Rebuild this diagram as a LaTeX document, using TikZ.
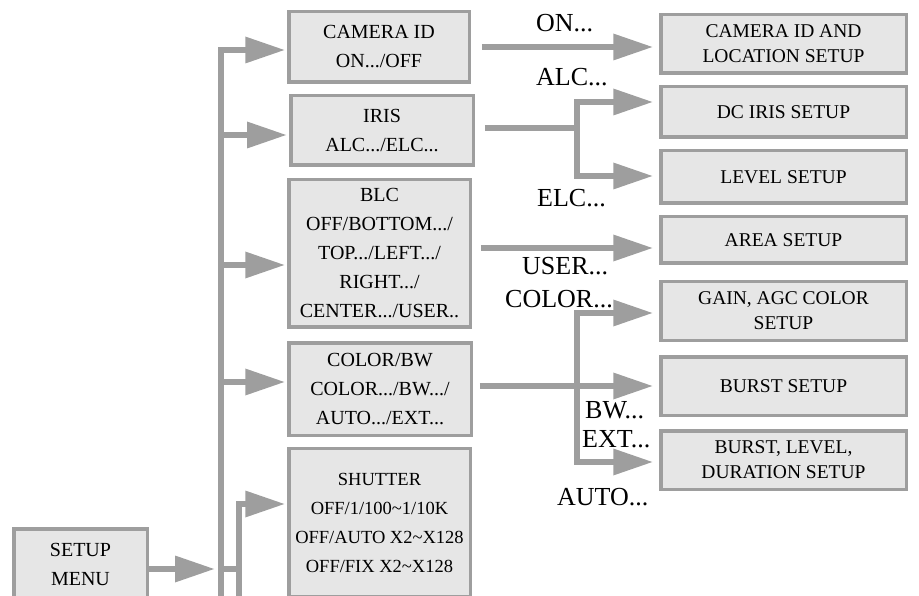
\documentclass[tikz,border=0pt]{standalone}
\usepackage{fontspec}
\setmainfont{Liberation Serif}
\usetikzlibrary{arrows.meta}
\definecolor{edge}{HTML}{9E9E9E}
\definecolor{boxfill}{HTML}{E6E6E6}
\tikzset{
 box/.style={draw=edge, fill=boxfill, line width=3.5pt, inner sep=0pt, align=center},
 lbox/.style={box, font=\fontsize{20}{29}\selectfont},
 rbox/.style={box, font=\fontsize{19.5}{25}\selectfont, minimum width=245.5pt},
 conn/.style={draw=edge, line width=6.5pt},
 arr/.style={conn, -{Triangle[length=40pt,width=25pt]}},
 lab/.style={anchor=base west, inner sep=0pt, font=\fontsize{26}{30}\selectfont},
}
\begin{document}
\begin{tikzpicture}[x=1pt,y=-1pt]
\useasboundingbox (0,0) rectangle (919,596);
\clip (0,0) rectangle (919,596);
% left column
\node[lbox, minimum width=133.5pt, minimum height=71.5pt] (setup) at (80.5,564.5) {SETUP\\MENU};
\node[lbox, minimum width=180.5pt, minimum height=70.5pt] (cam) at (379,47) {CAMERA ID\\ON.../OFF};
\node[lbox, minimum width=182.5pt, minimum height=69.5pt] (iris) at (382,130.5) {IRIS\\ALC.../ELC...};
\node[lbox, minimum width=181.5pt, minimum height=147.5pt] (blc) at (379.5,253.5) {BLC\\OFF/BOTTOM.../\\TOP.../LEFT.../\\RIGHT.../\\CENTER.../USER..};
\node[lbox, minimum width=182.5pt, minimum height=92.5pt] (color) at (380,389) {COLOR/BW\\COLOR.../BW.../\\AUTO.../EXT...};
\node[lbox, font=\fontsize{18.5}{29}\selectfont, minimum width=181.5pt, minimum height=148pt] (shutter) at (379.5,522.5) {SHUTTER\\OFF/1/100\textasciitilde1/10K\\OFF/AUTO X2\textasciitilde X128\\OFF/FIX X2\textasciitilde X128};
% right column
\node[rbox, minimum height=58.5pt] (camloc) at (783.5,44) {CAMERA ID AND\\LOCATION SETUP};
\node[rbox, minimum height=50.5pt] (dciris) at (783.5,112) {DC IRIS SETUP};
\node[rbox, minimum height=52.5pt] (level) at (783.5,177) {LEVEL SETUP};
\node[rbox, minimum height=46.5pt] (area) at (783.5,240) {AREA SETUP};
\node[rbox, minimum height=58.5pt] (gain) at (783.5,311) {GAIN, AGC COLOR\\SETUP};
\node[rbox, minimum height=58.5pt] (burst) at (783.5,386) {BURST SETUP};
\node[rbox, minimum height=58.5pt] (burstlvl) at (783.5,460) {BURST, LEVEL,\\DURATION SETUP};
% labels
\node[lab] (lon) at (536,32) {ON...};
\node[lab] (lalc) at (536,86) {ALC...};
\node[lab] (lelc) at (537,207) {ELC...};
\node[lab] (luser) at (522,275) {USER...};
\node[lab] (lcolor) at (505,308) {COLOR...};
\node[lab] (lbw) at (585,418) {BW...};
\node[lab] (lext) at (582,447) {EXT...};
\node[lab] (lauto) at (557,505) {AUTO...};
% bus coordinates
\coordinate (k1) at (221,50);
\coordinate (k2) at (221,135);
\coordinate (k3) at (221,265);
\coordinate (k4) at (221,382);
\coordinate (k5) at (221,569);
\coordinate (kb) at (221,610);
\coordinate (s1) at (239,504);
\coordinate (s2) at (239,610);
% left connectors
\draw[arr, shorten >=1.75pt] (kb) -- (k1) -- (k1 -| cam.west);
\draw[arr, shorten >=2pt] (k2) -- (k2 -| iris.west);
\draw[arr, shorten >=1.75pt] (k3) -- (k3 -| blc.west);
\draw[arr, shorten >=1.75pt] (k4) -- (k4 -| color.west);
\draw[arr, shorten >=1.75pt] (s2) -- (s1) -- (s1 -| shutter.west);
\draw[conn] (k5) -- (k5 -| s1);
\draw[arr, shorten >=6pt] (setup.east |- k5) -- (k5);
% right connectors
\draw[arr, shorten <=10.75pt, shorten >=5.75pt] (cam.east) -- (cam.east -| camloc.west);
\coordinate (ia) at (577,102);
\coordinate (ib) at (577,176);
\coordinate (ic) at (577,128);
\draw[conn, shorten <=9.75pt] (ic -| iris.east) -- (ic);
\draw[arr, shorten >=5.75pt] (ib) -- (ia) -- (ia -| dciris.west);
\draw[arr, shorten >=5.75pt] (ia) -- (ib) -- (ib -| level.west);
\coordinate (u) at (577,248);
\draw[arr, shorten <=8.75pt, shorten >=5.75pt] (u -| blc.east) -- (u -| area.west);
\coordinate (ca) at (577,313);
\coordinate (cb) at (577,386);
\coordinate (cc) at (577,462);
\draw[arr, shorten <=6.75pt, shorten >=5.75pt] (cb -| color.east) -- (cb -| burst.west);
\draw[arr, shorten >=5.75pt] (cc) -- (ca) -- (ca -| gain.west);
\draw[arr, shorten >=5.75pt] (ca) -- (cc) -- (cc -| burstlvl.west);
\end{tikzpicture}
\end{document}
